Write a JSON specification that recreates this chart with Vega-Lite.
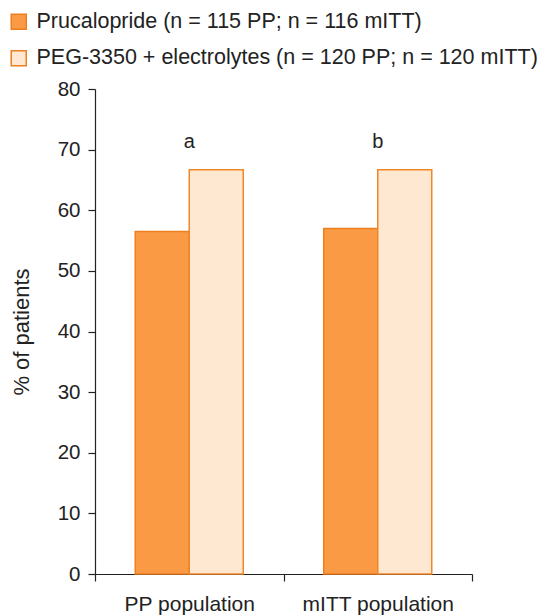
{
  "$schema": "https://vega.github.io/schema/vega-lite/v6.json",
  "width": 377,
  "height": 485,
  "autosize": {"type": "none"},
  "padding": {"left": 95, "top": 89, "right": 67, "bottom": 41},
  "background": "white",
  "config": {
    "font": "Liberation Sans",
    "view": {"stroke": null},
    "axis": {"domainColor": "#222", "tickColor": "#222", "labelColor": "#222", "titleColor": "#222", "grid": false}
  },
  "datasets": {
    "bars": [
      {"population": "PP population", "treatment": "Prucalopride (n = 115 PP; n = 116 mITT)", "value": 56.5},
      {"population": "PP population", "treatment": "PEG-3350 + electrolytes (n = 120 PP; n = 120 mITT)", "value": 66.7},
      {"population": "mITT population", "treatment": "Prucalopride (n = 115 PP; n = 116 mITT)", "value": 57.0},
      {"population": "mITT population", "treatment": "PEG-3350 + electrolytes (n = 120 PP; n = 120 mITT)", "value": 66.7}
    ],
    "notes": [
      {"population": "PP population", "label": "a", "value": 71.3},
      {"population": "mITT population", "label": "b", "value": 71.3}
    ]
  },
  "layer": [
    {
      "data": {"name": "bars"},
      "mark": {"type": "bar", "strokeWidth": 1.5},
      "encoding": {
        "x": {
          "field": "population", "type": "nominal", "sort": ["PP population", "mITT population"],
          "scale": {"paddingInner": 0, "paddingOuter": 0},
          "axis": {"title": null, "labelAngle": 0, "labelFontSize": 21, "tickSize": 7, "tickBand": "extent", "labelPadding": 12, "domainWidth": 1.2, "tickWidth": 1.2}
        },
        "xOffset": {
          "field": "treatment", "type": "nominal",
          "sort": ["Prucalopride (n = 115 PP; n = 116 mITT)", "PEG-3350 + electrolytes (n = 120 PP; n = 120 mITT)"],
          "scale": {"paddingInner": 0, "paddingOuter": 0.745}
        },
        "y": {
          "field": "value", "type": "quantitative",
          "scale": {"domain": [0, 80], "nice": false},
          "axis": {"title": "% of patients", "titleFontSize": 22, "titleFontWeight": "normal", "labelFontSize": 20.5, "values": [0, 10, 20, 30, 40, 50, 60, 70, 80], "tickSize": 7, "labelPadding": 8, "titlePadding": 24, "domainWidth": 1.2, "tickWidth": 1.2}
        },
        "fill": {
          "field": "treatment", "type": "nominal",
          "sort": ["Prucalopride (n = 115 PP; n = 116 mITT)", "PEG-3350 + electrolytes (n = 120 PP; n = 120 mITT)"],
          "scale": {"range": ["#FA9A44", "#FEE8D2"]},
          "legend": {
            "title": null, "orient": "none", "legendX": -87, "legendY": -78,
            "labelFontSize": 21.5, "labelColor": "#222", "symbolType": "square", "symbolSize": 225,
            "symbolStrokeColor": "#EE7F1E", "symbolStrokeWidth": 1.5, "rowPadding": 13.5, "labelOffset": 7, "labelLimit": 700
          }
        },
        "stroke": {
          "field": "treatment", "type": "nominal",
          "sort": ["Prucalopride (n = 115 PP; n = 116 mITT)", "PEG-3350 + electrolytes (n = 120 PP; n = 120 mITT)"],
          "scale": {"range": ["#EE7F1E", "#F0882A"]},
          "legend": null
        }
      }
    },
    {
      "data": {"name": "notes"},
      "mark": {"type": "text", "fontSize": 20, "color": "#222"},
      "encoding": {
        "x": {"field": "population", "type": "nominal", "sort": ["PP population", "mITT population"]},
        "y": {"field": "value", "type": "quantitative"},
        "text": {"field": "label"}
      }
    }
  ]
}
